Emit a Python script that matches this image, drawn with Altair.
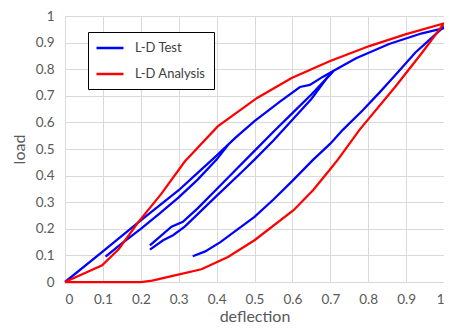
import altair as alt
import pandas as pd

# ---- data ----
series_names = ["L-D Test", "L-D Analysis"]
tick_values = [0, 0.1, 0.2, 0.3, 0.4, 0.5, 0.6, 0.7, 0.8, 0.9, 1]

# L-D Test (blue) — several branches of the load/unload history
test_a_x = [0, 0.1, 0.2, 0.3, 0.35, 0.4, 0.45, 0.5, 0.568, 0.62, 0.646, 0.681, 0.716, 0.768, 0.855, 0.942, 1.0]
test_a_y = [0, 0.115, 0.232, 0.345, 0.41, 0.475, 0.543, 0.605, 0.679, 0.733, 0.741, 0.772, 0.8, 0.841, 0.895, 0.935, 0.955]

test_b_x = [0.107, 0.15, 0.2, 0.25, 0.3, 0.35, 0.4, 0.43]
test_b_y = [0.095, 0.145, 0.2, 0.258, 0.318, 0.385, 0.46, 0.515]

test_c_x = [0.224, 0.281, 0.311, 0.35, 0.398, 0.45, 0.5, 0.55, 0.6, 0.65, 0.69, 0.707]
test_c_y = [0.138, 0.208, 0.226, 0.277, 0.346, 0.421, 0.493, 0.565, 0.635, 0.705, 0.765, 0.791]

test_d_x = [0.224, 0.259, 0.285, 0.316, 0.398, 0.472, 0.5, 0.55, 0.6, 0.65, 0.69, 0.707]
test_d_y = [0.122, 0.157, 0.176, 0.208, 0.321, 0.421, 0.46, 0.532, 0.61, 0.688, 0.765, 0.791]

test_e_x = [0.337, 0.37, 0.41, 0.45, 0.5, 0.55, 0.6, 0.655, 0.7, 0.733, 0.785, 0.829, 0.87, 0.924, 1.0]
test_e_y = [0.097, 0.115, 0.15, 0.192, 0.245, 0.31, 0.38, 0.46, 0.52, 0.572, 0.645, 0.711, 0.775, 0.862, 0.96]

# L-D Analysis (red) — loading branch then unloading branch, closed at origin
ana_x = [0, 0.098, 0.142, 0.194, 0.255, 0.316, 0.403, 0.507, 0.598, 0.698, 0.803, 0.898, 1.0,
         0.942, 0.872, 0.777, 0.72, 0.698, 0.655, 0.603, 0.5, 0.43, 0.36, 0.29, 0.23, 0.2, 0]
ana_y = [0, 0.063, 0.124, 0.226, 0.333, 0.453, 0.585, 0.692, 0.767, 0.83, 0.887, 0.931, 0.972,
         0.862, 0.735, 0.572, 0.46, 0.421, 0.346, 0.27, 0.157, 0.094, 0.048, 0.025, 0.005, 0, 0]

rows = []


def add(series, seg, xs, ys):
    for i, (xv, yv) in enumerate(zip(xs, ys)):
        rows.append({"series": series, "seg": seg, "order": i, "x": xv, "y": yv})


add(series_names[0], "A", test_a_x, test_a_y)
add(series_names[0], "B", test_b_x, test_b_y)
add(series_names[0], "C", test_c_x, test_c_y)
add(series_names[0], "D", test_d_x, test_d_y)
add(series_names[0], "E", test_e_x, test_e_y)
add(series_names[1], "R", ana_x, ana_y)
df = pd.DataFrame(rows)

FONT = "Lato"
GRID = "#d9d9d9"
LABEL = "#595959"

axis_common = dict(
    values=tick_values,
    format="~g",
    grid=True,
    gridColor=GRID,
    gridWidth=1,
    ticks=False,
    domain=True,
    domainColor=GRID,
    labelFont=FONT,
    labelFontSize=13.5,
    labelColor=LABEL,
    titleFont=FONT,
    titleFontSize=16,
    titleFontWeight="normal",
    titleColor=LABEL,
)

chart = (
    alt.Chart(df)
    .mark_line(strokeWidth=2.25)
    .encode(
        x=alt.X(
            "x:Q",
            title="deflection",
            scale=alt.Scale(domain=[0, 1], nice=False),
            axis=alt.Axis(labelPadding=10, titlePadding=3, **axis_common),
        ),
        y=alt.Y(
            "y:Q",
            title="load",
            scale=alt.Scale(domain=[0, 1], nice=False),
            axis=alt.Axis(labelPadding=11, titlePadding=8, **axis_common),
        ),
        color=alt.Color(
            "series:N",
            sort=series_names,
            scale=alt.Scale(domain=series_names, range=["#0000ff", "#ff0000"]),
            legend=alt.Legend(
                title=None,
                orient="none",
                legendX=23,
                legendY=16,
                symbolType="M-2,0H2",
                symbolSize=182,
                symbolStrokeWidth=2.5,
                symbolOffset=6,
                labelOffset=17,
                labelFont=FONT,
                labelFontSize=13,
                labelColor="#404040",
                padding=8,
                rowPadding=11,
                strokeColor="black",
                fillColor="white",
            ),
        ),
        detail="seg:N",
        order="order:Q",
    )
    .properties(
        width=379,
        height=266,
        padding={"left": 57, "top": 8, "right": 0, "bottom": 44},
        autosize=alt.AutoSizeParams(type="none"),
    )
    .configure_view(stroke=None)
)

chart.save("out.html", embed_options={"renderer": "svg", "actions": False})
